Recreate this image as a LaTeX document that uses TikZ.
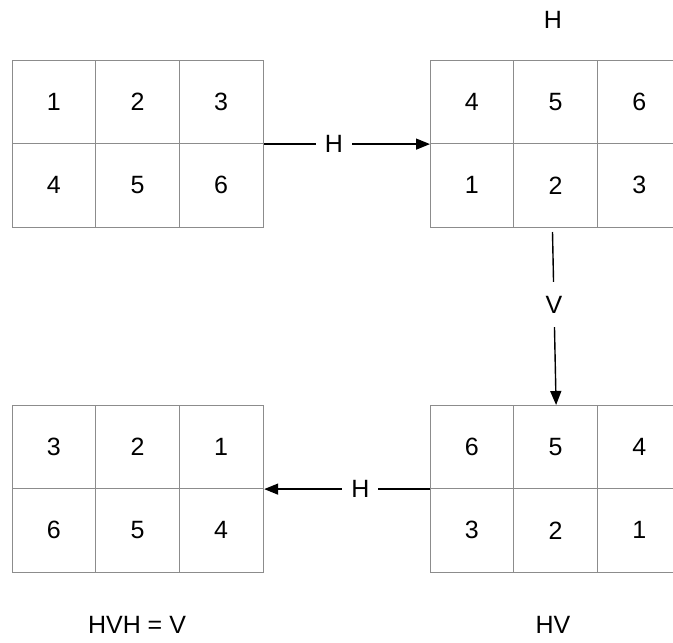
\documentclass[tikz,border=0pt]{standalone}
\usepackage{fontspec}
\setmainfont{Liberation Sans}
\usetikzlibrary{arrows.meta,calc}
\definecolor{gridgray}{HTML}{8C8C8C}
\newcommand{\panelgrid}[9]{%
  \node[gridbox,anchor=north west] (#1) at (#2,#3) {};
  \draw[gridline] ($(#1.north west)+(83.7,0)$) -- ++(0,167);
  \draw[gridline] ($(#1.north west)+(167.3,0)$) -- ++(0,167);
  \draw[gridline] ($(#1.north west)+(0,83.5)$) -- ++(251,0);
  \node[num] (#1-1) at ($(#1.north west)+(41.8,41.7)$) {#4};
  \node[num] (#1-2) at ($(#1.north west)+(125.5,41.7)$) {#5};
  \node[num] (#1-3) at ($(#1.north west)+(209.2,41.7)$) {#6};
  \node[num] (#1-4) at ($(#1.north west)+(41.8,125.3)$) {#7};
  \node[num] (#1-5) at ($(#1.north west)+(125.5,125.3)$) {#8};
  \node[num] (#1-6) at ($(#1.north west)+(209.2,125.3)$) {#9};
}
\begin{document}
\begin{tikzpicture}[x=1pt,y=-1pt,
  gridbox/.style={draw=gridgray,line width=1.2pt,minimum width=251pt,minimum height=167pt,inner sep=0pt},
  gridline/.style={draw=gridgray,line width=1.2pt},
  num/.style={font=\fontsize{25}{30}\selectfont,inner sep=0pt},
  txt/.style={font=\fontsize{25}{30}\selectfont,inner sep=0pt},
  conn/.style={draw=black,line width=1.4pt,-{Triangle[length=14pt,width=11pt]}},
  lab/.style={font=\fontsize{25}{30}\selectfont,fill=white,inner xsep=9pt,inner ysep=4pt}]
\fill[white] (0,0) rectangle (673,643);
\clip (0,0) rectangle (673,643);
\useasboundingbox (0,0) rectangle (673,643);
\panelgrid{tl}{12}{60}{1}{2}{3}{4}{5}{6}
\panelgrid{tr}{430}{60}{4}{5}{6}{1}{2}{3}
\panelgrid{bl}{12}{405}{3}{2}{1}{6}{5}{4}
\panelgrid{br}{430}{405}{6}{5}{4}{3}{2}{1}
\node[txt] (topH) at (553,20) {H};
\node[txt] (capBL) at (137,625) {HVH = V};
\node[txt] (capBR) at (553,625) {HV};
\draw[conn] (tl.east) -- node[lab,pos=0.42] (h1) {H} (tr.west);
\coordinate (vstart) at (552.5,232);
\draw[conn] (vstart) -- node[lab,pos=0.42,inner ysep=14pt,inner xsep=4pt] (v1) {V} (br.north);
\draw[conn] (br.west) -- node[lab,pos=0.42] (h2) {H} (bl.east);
\end{tikzpicture}
\end{document}
